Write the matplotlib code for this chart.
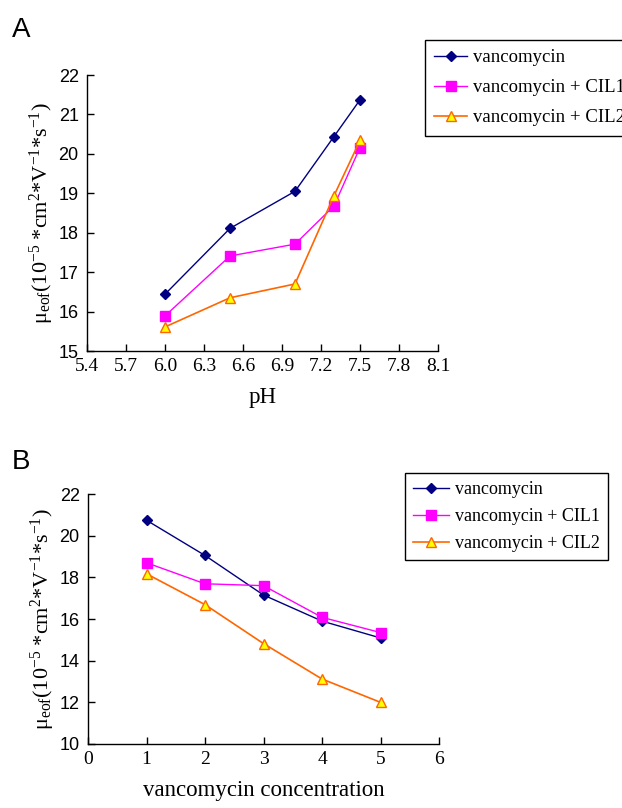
import matplotlib
matplotlib.use("Agg")
import matplotlib.pyplot as plt

plt.rcParams['mathtext.fontset'] = 'custom'
plt.rcParams['mathtext.rm'] = 'Liberation Serif'
plt.rcParams['mathtext.it'] = 'Liberation Serif:italic'

# Panel A data
ph = [6.0, 6.5, 7.0, 7.3, 7.5]
a_vanco = [16.44, 18.11, 19.05, 20.44, 21.37]
a_cil1 = [15.89, 17.41, 17.71, 18.68, 20.16]
a_cil2 = [15.61, 16.35, 16.70, 18.94, 20.34]
a_xticks = [5.4, 5.7, 6.0, 6.3, 6.6, 6.9, 7.2, 7.5, 7.8, 8.1]
a_yticks = [15, 16, 17, 18, 19, 20, 21, 22]

# Panel B data
conc = [1, 2, 3, 4, 5]
b_vanco = [20.74, 19.05, 17.15, 15.90, 15.09]
b_cil1 = [18.70, 17.69, 17.60, 16.08, 15.35]
b_cil2 = [18.17, 16.69, 14.82, 13.12, 12.00]
b_xticks = [0, 1, 2, 3, 4, 5, 6]
b_yticks = [10, 12, 14, 16, 18, 20, 22]

labels = ['vancomycin', 'vancomycin + CIL1', 'vancomycin + CIL2']

W, H = 622, 808
fig = plt.figure(figsize=(W / 100, H / 100), dpi=100)

serif = 'Liberation Serif'
sans = 'Liberation Sans'

ylab = 'μ' + r'$_{\rm eof}$' + r'(10$^{-5}$ *cm$^{2}$*V$^{-1}$*s$^{-1}$)'


def style(ax, xticks, yticks, xlab, xfmt):
    for s in ['top', 'right']:
        ax.spines[s].set_visible(False)
    for s in ['left', 'bottom']:
        ax.spines[s].set_linewidth(1.0)
    ax.set_xticks(xticks)
    ax.set_xticklabels([xfmt(v) for v in xticks], fontfamily=serif, fontsize=14)
    ax.set_yticks(yticks)
    ax.set_yticklabels([str(v) for v in yticks], fontfamily=sans, fontsize=13)
    ax.tick_params(axis='x', direction='in', length=5, width=1, pad=5)
    ax.tick_params(axis='y', direction='in', length=5, width=1, pad=6)
    ax.set_xlabel(xlab, fontfamily=serif, fontsize=16.5, labelpad=9)
    ax.set_ylabel(ylab, fontfamily=serif, fontsize=16, labelpad=2)


def draw(ax, x, s1, s2, s3):
    l1, = ax.plot(x, s1, color='#000080', marker='D', markersize=5.5,
                  markerfacecolor='#000080', markeredgecolor='#000080', lw=1)
    l2, = ax.plot(x, s2, color='#FF00FF', marker='s', markersize=6.5,
                  markerfacecolor='#FF00FF', markeredgecolor='#FF00FF', lw=1)
    l3, = ax.plot(x, s3, color='#FF6600', marker='^', markersize=7,
                  markerfacecolor='#FFFF00', markeredgecolor='#FF6600', lw=1.2)
    return [l1, l2, l3]


def leg(handles, left_px, top_px, size, spacing, hlen, bpad):
    lg = fig.legend(handles, labels, loc='upper left',
                    bbox_to_anchor=(left_px / W, 1 - top_px / H),
                    prop={'family': serif, 'size': size}, frameon=True,
                    fancybox=False, framealpha=1, edgecolor='black',
                    borderpad=bpad, labelspacing=spacing, handlelength=hlen,
                    handletextpad=0.3, borderaxespad=0)
    lg.get_frame().set_linewidth(1.0)
    return lg


# Panel A
axA = fig.add_axes([87 / W, 1 - 351 / H, (438 - 87) / W, (351 - 75) / H])
hA = draw(axA, ph, a_vanco, a_cil1, a_cil2)
axA.set_xlim(5.4, 8.1)
axA.set_ylim(15, 22)
style(axA, a_xticks, a_yticks, 'pH', lambda v: f'{v:.1f}')
leg(hA, 425, 40, 13.5, 0.68, 1.75, 0.5)
fig.text(12 / W, 1 - 37 / H, 'A', fontfamily=sans, fontsize=20)

# Panel B
axB = fig.add_axes([88 / W, 1 - 744 / H, (439 - 88) / W, (744 - 494) / H])
hB = draw(axB, conc, b_vanco, b_cil1, b_cil2)
axB.set_xlim(0, 6)
axB.set_ylim(10, 22)
style(axB, b_xticks, b_yticks, 'vancomycin concentration', lambda v: str(v))
leg(hB, 405, 473, 13, 0.55, 2.0, 0.45)
fig.text(12 / W, 1 - 469 / H, 'B', fontfamily=sans, fontsize=20)

fig.savefig('out.png', dpi=100)
